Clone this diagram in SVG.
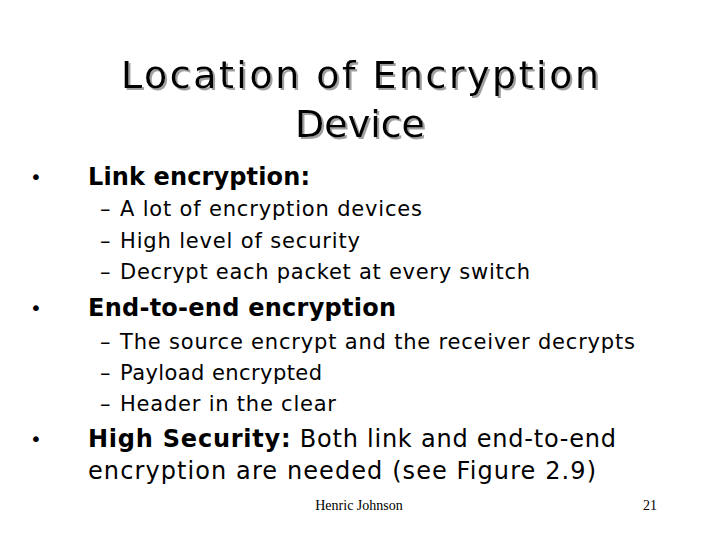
<svg xmlns="http://www.w3.org/2000/svg" width="720" height="540" viewBox="0 0 720 540">
<defs>
<filter id="sh" x="-5%" y="-20%" width="110%" height="140%">
<feDropShadow dx="2" dy="2" stdDeviation="0.5" flood-color="#a0a0a0" flood-opacity="1"/>
</filter>
</defs>
<style>
.t{font-family:"DejaVu Sans",sans-serif;font-size:38px;text-anchor:middle;filter:url(#sh)}
.b{font-family:"DejaVu Sans",sans-serif;font-size:24px;font-weight:bold}
.n{font-family:"DejaVu Sans",sans-serif;font-size:24px}
.bu{font-family:"DejaVu Sans",sans-serif;font-size:20px}
.s{font-family:"DejaVu Sans",sans-serif;font-size:21px}
.f{font-family:"Liberation Serif",serif;font-size:14px}
</style>
<rect width="720" height="540" fill="#fff"/>
<g class="t">
<text x="360" y="88" textLength="478">Location of Encryption</text>
<text x="360" y="137">Device</text>
</g>
<text x="30" y="184" class="bu">•</text>
<text x="88" y="185" class="b" textLength="222">Link encryption:</text>
<text x="100" y="216" class="s">–</text><text x="120" y="216" class="s" textLength="302">A lot of encryption devices</text>
<text x="100" y="248" class="s">–</text><text x="120" y="248" class="s" textLength="240">High level of security</text>
<text x="100" y="279" class="s">–</text><text x="120" y="279" class="s" textLength="410">Decrypt each packet at every switch</text>
<text x="30" y="315" class="bu">•</text>
<text x="88" y="316" class="b" textLength="308">End-to-end encryption</text>
<text x="100" y="349" class="s">–</text><text x="120" y="349" class="s" textLength="515">The source encrypt and the receiver decrypts</text>
<text x="100" y="380" class="s">–</text><text x="120" y="380" class="s" textLength="202">Payload encrypted</text>
<text x="100" y="411" class="s">–</text><text x="120" y="411" class="s" textLength="216">Header in the clear</text>
<text x="30" y="446" class="bu">•</text>
<text x="88" y="447" class="n" textLength="528"><tspan font-weight="bold">High Security:</tspan> Both link and end-to-end</text>
<text x="88" y="479" class="n" textLength="508">encryption are needed (see Figure 2.9)</text>
<text x="359" y="510" class="f" text-anchor="middle">Henric Johnson</text>
<text x="657" y="510" class="f" text-anchor="end">21</text>
</svg>
